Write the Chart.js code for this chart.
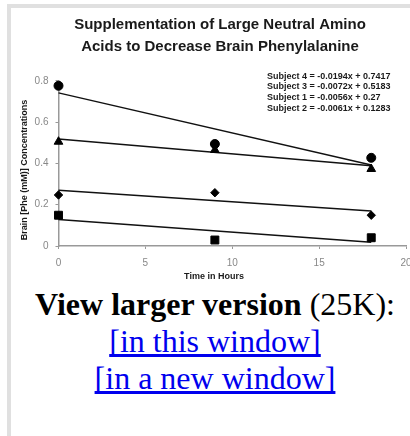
<!DOCTYPE html>
<html>
<head>
<meta charset="utf-8">
<script src="https://cdn.jsdelivr.net/npm/chart.js@4/dist/chart.umd.min.js"></script>
<style>
  html, body { margin: 0; padding: 0; background: #fff; overflow: hidden; width: 410px; height: 436px; }
  #frameLeft { position: absolute; left: 7px; top: 4px; width: 4px; height: 440px; background: #e0e0e0; }
  #frameTop { position: absolute; left: 7px; top: 4px; width: 410px; height: 4px; background: #e0e0e0; }
  #wrap { position: absolute; left: 11px; top: 8px; width: 420px; height: 278px; }
  #caption { position: absolute; left: 11px; top: 286px; width: 408px; text-align: center;
             font-family: "Liberation Serif", "Times New Roman", serif; font-size: 32px; line-height: normal; color: #000; }
  #caption a { color: #0000EE; text-decoration: underline; text-decoration-skip-ink: none; }
</style>
</head>
<body>
<div id="frameTop"></div>
<div id="frameLeft"></div>
<div id="wrap"><canvas id="c" width="420" height="278"></canvas></div>
<div id="caption"><b>View larger version</b> (25K):<br><a href="#">[in this window]</a><br><a href="#">[in a new window]</a></div>
<script>
// ---- Data ----
const times = [0, 9, 18];
const subject4 = [0.776, 0.494, 0.427];   // circles
const subject3 = [0.505, 0.465, 0.373];   // triangles
const subject1 = [0.247, 0.258, 0.149];   // diamonds
const subject2 = [0.149, 0.029, 0.040];   // squares
// regression equations shown on the chart
const trendNames = ["Subject 4", "Subject 3", "Subject 1", "Subject 2"];
const trendSlopes = [-0.0194, -0.0072, -0.0056, -0.0061];
const trendIntercepts = [0.7417, 0.5183, 0.27, 0.1283];
const trendLabels = ["Subject 4 = -0.0194x + 0.7417", "Subject 3 = -0.0072x + 0.5183",
                     "Subject 1 = -0.0056x + 0.27", "Subject 2 = -0.0061x + 0.1283"];
const trendRange = [0, 18];
const xTicks = [0, 5, 10, 15, 20];
const yTicks = [0, 0.2, 0.4, 0.6, 0.8];
const titleLines = ["Supplementation of Large Neutral Amino", "Acids to Decrease Brain Phenylalanine"];
const xTitle = "Time in Hours";
const yTitle = "Brain [Phe (mM)] Concentrations";

const pts = (arr) => times.map((t, i) => ({x: t, y: arr[i]}));
const trend = (k) => trendRange.map(x => ({x: x, y: trendSlopes[k] * x + trendIntercepts[k]}));

const markerDefs = [
  {data: subject4, style: 'circle', r: 4.5},
  {data: subject3, style: 'triangle', r: 5},
  {data: subject1, style: 'rectRot', r: 4.2},
  {data: subject2, style: 'rect', r: 5.6}
];

const datasets = [];
trendNames.forEach((n, k) => {
  datasets.push({
    label: n + ' trend', data: trend(k), showLine: true, borderColor: '#111', borderWidth: 1.4,
    pointRadius: 0, fill: false, clip: false, order: 2
  });
});
markerDefs.forEach((m, k) => {
  datasets.push({
    label: trendNames[k], data: pts(m.data), showLine: false, pointStyle: m.style,
    pointRadius: m.r, pointBackgroundColor: '#000', pointBorderColor: '#000', pointBorderWidth: 1,
    clip: false, order: 1
  });
});

const textPlugin = {
  id: 'texts',
  afterDraw(chart) {
    const ctx = chart.ctx;
    ctx.save();
    ctx.fillStyle = '#1a1a1a';
    // Title
    ctx.font = 'bold 15px "Liberation Sans", Arial, sans-serif';
    ctx.textAlign = 'center';
    ctx.textBaseline = 'alphabetic';
    ctx.fillText(titleLines[0], 209, 21);
    ctx.fillText(titleLines[1], 209, 42.5);
    // equations
    ctx.font = 'bold 9px "Liberation Sans", Arial, sans-serif';
    ctx.textAlign = 'left';
    trendLabels.forEach((t, i) => ctx.fillText(t, 256, 70.5 + i * 10.7));
    // axis titles
    ctx.textAlign = 'center';
    ctx.textBaseline = 'middle';
    ctx.fillText(xTitle, 203, 269);
    ctx.translate(14, 162);
    ctx.rotate(-Math.PI / 2);
    ctx.fillText(yTitle, 0, 0);
    ctx.restore();
  }
};

new Chart(document.getElementById('c'), {
  type: 'scatter',
  data: {datasets},
  options: {
    responsive: false,
    animation: false,
    devicePixelRatio: 1,
    layout: {padding: {left: 0, right: 25, top: 72.8, bottom: 0}},
    plugins: {legend: {display: false}, title: {display: false}, tooltip: {enabled: false}},
    scales: {
      x: {
        type: 'linear', min: 0, max: 20,
        afterFit(s) { s.height = 40; },
        afterBuildTicks(s) { s.ticks = xTicks.map(v => ({value: v})); },
        border: {display: true, color: '#999', width: 1.5},
        grid: {display: true, drawOnChartArea: false, drawTicks: true, tickLength: 3, color: '#999', lineWidth: 1},
        ticks: {color: '#888', font: {family: '"Liberation Sans", Arial, sans-serif', size: 10}, padding: 8, maxRotation: 0}
      },
      y: {
        type: 'linear', min: 0, max: 0.8,
        afterFit(s) { s.width = 47.5; },
        afterBuildTicks(s) { s.ticks = yTicks.map(v => ({value: v})); },
        border: {display: true, color: '#999', width: 1.5},
        grid: {display: true, drawOnChartArea: false, drawTicks: true, tickLength: 3, color: '#999', lineWidth: 1},
        ticks: {color: '#888', font: {family: '"Liberation Sans", Arial, sans-serif', size: 10}, padding: 7,
                callback: (v) => (v === 0 ? '0' : String(Math.round(v * 10) / 10))}
      }
    }
  },
  plugins: [textPlugin]
});
</script>
</body>
</html>
